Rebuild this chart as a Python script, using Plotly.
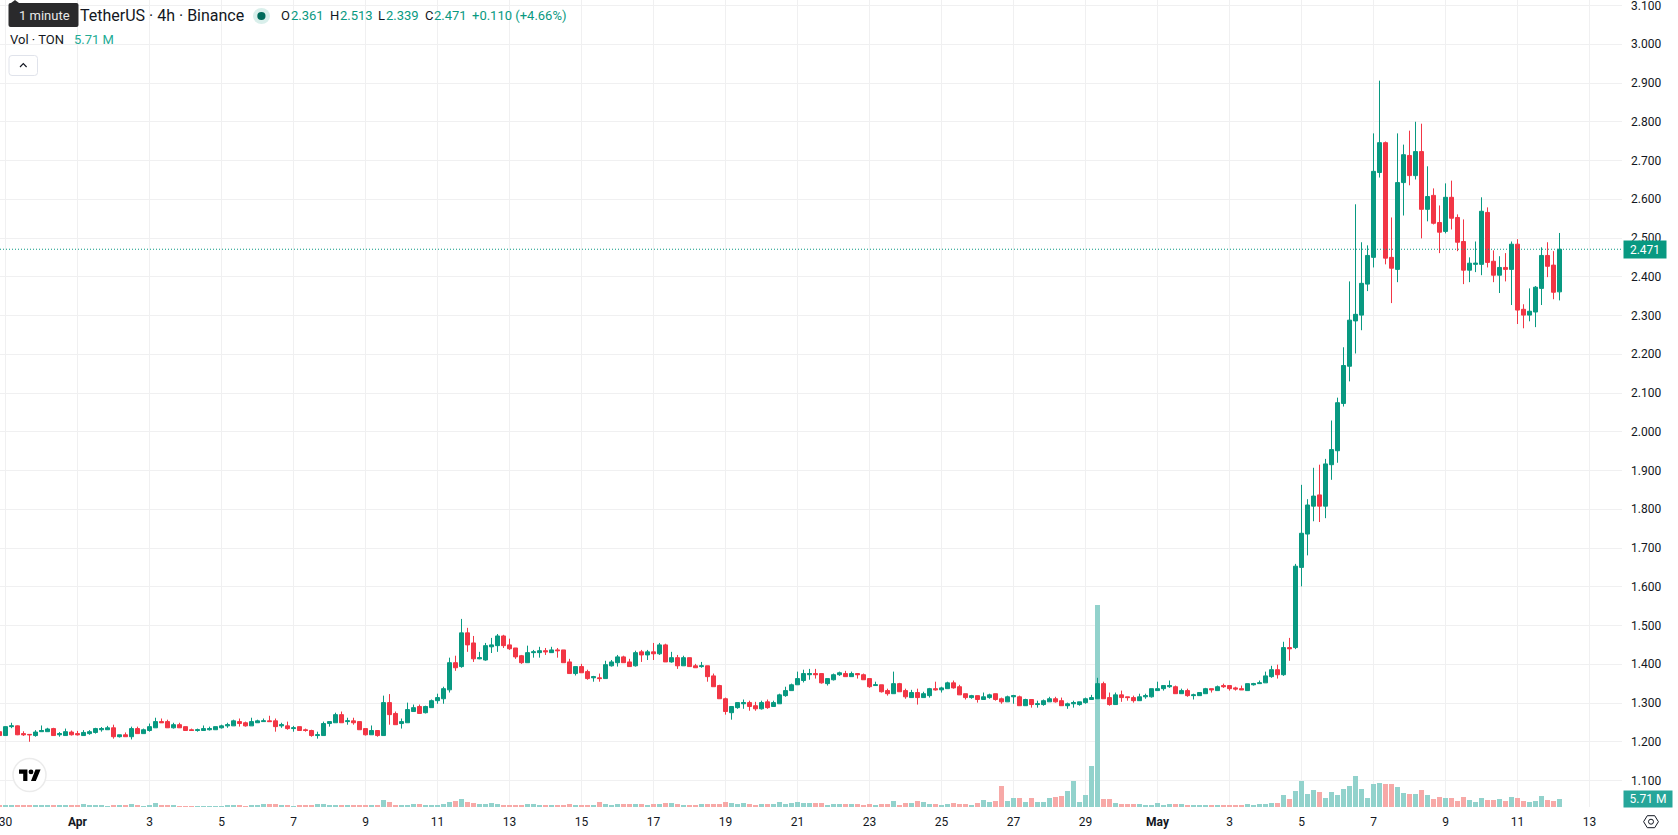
import pandas as pd
import plotly.graph_objects as go

# 4h candles, oldest first
FIRST_BAR = "2026-03-29 20:00"

opens = [
    1.226,1.216,1.239,1.241,1.221,1.219,1.216,1.226,1.226,1.234,
    1.218,1.216,1.225,1.221,1.216,1.221,1.224,1.231,1.231,1.236,
    1.213,1.218,1.213,1.234,1.221,1.229,1.236,1.252,1.252,1.236,
    1.244,1.239,1.231,1.229,1.229,1.231,1.231,1.236,1.241,1.241,
    1.252,1.249,1.241,1.249,1.252,1.254,1.254,1.241,1.241,1.234,
    1.239,1.231,1.229,1.216,1.216,1.247,1.249,1.270,1.252,1.254,
    1.252,1.234,1.218,1.229,1.216,1.301,1.273,1.247,1.249,1.278,
    1.291,1.275,1.288,1.306,1.311,1.334,1.404,1.394,1.481,1.455,
    1.414,1.411,1.445,1.448,1.473,1.450,1.442,1.422,1.404,1.430,
    1.430,1.435,1.430,1.437,1.437,1.406,1.376,1.394,1.381,1.365,
    1.365,1.363,1.396,1.404,1.419,1.406,1.396,1.432,1.424,1.432,
    1.427,1.450,1.406,1.417,1.396,1.417,1.396,1.394,1.396,1.370,
    1.345,1.311,1.275,1.288,1.298,1.301,1.293,1.285,1.303,1.291,
    1.298,1.319,1.332,1.347,1.358,1.373,1.376,1.376,1.350,1.360,
    1.373,1.376,1.368,1.376,1.373,1.363,1.345,1.347,1.332,1.324,
    1.350,1.332,1.314,1.327,1.314,1.319,1.337,1.334,1.337,1.352,
    1.342,1.324,1.314,1.319,1.309,1.314,1.324,1.311,1.303,1.316,
    1.316,1.293,1.309,1.296,1.296,1.303,1.311,1.306,1.293,1.298,
    1.296,1.301,1.309,1.311,1.350,1.314,1.296,1.321,1.316,1.314,
    1.306,1.316,1.316,1.332,1.337,1.342,1.342,1.324,1.332,1.319,
    1.319,1.324,1.337,1.332,1.345,1.345,1.339,1.337,1.332,1.347,
    1.350,1.352,1.368,1.386,1.373,1.443,1.443,1.650,1.736,1.808,
    1.837,1.808,1.915,1.951,2.073,2.169,2.286,2.301,2.381,2.450,
    2.669,2.746,2.450,2.419,2.643,2.713,2.661,2.723,2.574,2.610,
    2.540,2.517,2.605,2.553,2.491,2.417,2.432,2.432,2.566,2.440,
    2.404,2.424,2.419,2.484,2.316,2.301,2.309,2.370,2.455,2.430,
    2.361,
]
highs = [
    1.226,1.240,1.249,1.242,1.227,1.220,1.230,1.242,1.236,1.236,
    1.225,1.234,1.229,1.228,1.230,1.230,1.236,1.238,1.241,1.244,
    1.218,1.224,1.239,1.239,1.234,1.247,1.262,1.260,1.257,1.249,
    1.249,1.239,1.234,1.234,1.242,1.239,1.239,1.244,1.249,1.257,
    1.260,1.252,1.262,1.257,1.260,1.267,1.260,1.249,1.252,1.241,
    1.239,1.234,1.231,1.226,1.252,1.252,1.275,1.278,1.262,1.262,
    1.252,1.234,1.242,1.229,1.319,1.323,1.278,1.260,1.301,1.296,
    1.296,1.293,1.309,1.324,1.342,1.417,1.422,1.517,1.494,1.473,
    1.432,1.455,1.468,1.478,1.476,1.466,1.442,1.424,1.448,1.437,
    1.445,1.442,1.445,1.442,1.437,1.414,1.394,1.401,1.386,1.370,
    1.376,1.409,1.411,1.424,1.422,1.414,1.435,1.437,1.437,1.455,
    1.455,1.453,1.432,1.424,1.422,1.417,1.401,1.406,1.396,1.376,
    1.347,1.314,1.291,1.301,1.309,1.306,1.303,1.306,1.309,1.306,
    1.324,1.342,1.350,1.381,1.386,1.388,1.388,1.376,1.363,1.376,
    1.381,1.383,1.381,1.376,1.376,1.363,1.355,1.347,1.337,1.381,
    1.352,1.337,1.334,1.337,1.329,1.339,1.355,1.342,1.355,1.358,
    1.347,1.324,1.321,1.319,1.327,1.324,1.324,1.314,1.319,1.321,
    1.319,1.311,1.309,1.306,1.309,1.316,1.316,1.314,1.301,1.306,
    1.303,1.314,1.321,1.365,1.355,1.327,1.327,1.332,1.316,1.319,
    1.324,1.324,1.337,1.355,1.345,1.358,1.345,1.337,1.337,1.324,
    1.327,1.339,1.337,1.345,1.350,1.345,1.342,1.345,1.350,1.352,
    1.358,1.381,1.396,1.399,1.458,1.468,1.659,1.863,1.826,1.907,
    1.915,1.930,2.029,2.088,2.218,2.388,2.587,2.489,2.481,2.770,
    2.906,2.749,2.553,2.770,2.741,2.777,2.800,2.795,2.685,2.628,
    2.584,2.641,2.648,2.561,2.548,2.450,2.491,2.605,2.579,2.468,
    2.453,2.461,2.491,2.497,2.329,2.370,2.376,2.476,2.489,2.466,
    2.513,
]
lows = [
    1.216,1.216,1.235,1.217,1.215,1.200,1.213,1.226,1.226,1.216,
    1.213,1.216,1.216,1.216,1.216,1.218,1.221,1.226,1.231,1.208,
    1.211,1.213,1.206,1.221,1.221,1.226,1.236,1.249,1.236,1.234,
    1.236,1.229,1.229,1.226,1.229,1.229,1.231,1.234,1.236,1.241,
    1.239,1.239,1.241,1.249,1.252,1.252,1.226,1.236,1.231,1.226,
    1.229,1.226,1.213,1.208,1.216,1.239,1.249,1.249,1.244,1.244,
    1.231,1.216,1.218,1.213,1.216,1.244,1.244,1.234,1.249,1.278,
    1.273,1.273,1.288,1.298,1.298,1.327,1.383,1.391,1.432,1.406,
    1.413,1.409,1.429,1.432,1.442,1.437,1.414,1.401,1.404,1.417,
    1.417,1.424,1.430,1.417,1.404,1.376,1.371,1.378,1.360,1.355,
    1.355,1.363,1.394,1.394,1.404,1.394,1.394,1.406,1.411,1.411,
    1.424,1.406,1.404,1.388,1.396,1.394,1.391,1.391,1.355,1.342,
    1.311,1.270,1.257,1.285,1.285,1.280,1.280,1.283,1.285,1.291,
    1.298,1.316,1.332,1.347,1.353,1.360,1.363,1.350,1.345,1.358,
    1.370,1.368,1.368,1.363,1.360,1.339,1.345,1.327,1.319,1.324,
    1.329,1.311,1.314,1.296,1.314,1.314,1.332,1.327,1.337,1.337,
    1.321,1.309,1.311,1.301,1.309,1.311,1.306,1.298,1.303,1.298,
    1.293,1.293,1.288,1.288,1.293,1.303,1.301,1.293,1.285,1.288,
    1.293,1.298,1.309,1.311,1.311,1.293,1.296,1.303,1.306,1.301,
    1.306,1.311,1.314,1.332,1.332,1.339,1.324,1.324,1.316,1.309,
    1.319,1.324,1.327,1.332,1.339,1.332,1.332,1.334,1.332,1.345,
    1.350,1.352,1.365,1.363,1.370,1.409,1.439,1.601,1.681,1.769,
    1.767,1.777,1.876,1.920,2.065,2.130,2.202,2.262,2.363,2.424,
    2.656,2.432,2.332,2.386,2.558,2.636,2.651,2.499,2.543,2.535,
    2.461,2.512,2.522,2.466,2.381,2.386,2.412,2.404,2.424,2.386,
    2.358,2.388,2.327,2.278,2.267,2.285,2.270,2.327,2.399,2.342,
    2.339,
]
closes = [
    1.216,1.239,1.241,1.218,1.218,1.218,1.225,1.229,1.233,1.216,
    1.221,1.226,1.218,1.218,1.224,1.226,1.234,1.234,1.236,1.213,
    1.218,1.213,1.234,1.221,1.231,1.239,1.252,1.249,1.236,1.244,
    1.236,1.229,1.229,1.231,1.234,1.234,1.239,1.241,1.244,1.254,
    1.247,1.241,1.252,1.254,1.254,1.252,1.239,1.244,1.234,1.236,
    1.229,1.229,1.216,1.218,1.247,1.252,1.270,1.249,1.254,1.249,
    1.231,1.218,1.229,1.216,1.301,1.270,1.244,1.252,1.283,1.288,
    1.273,1.291,1.306,1.314,1.337,1.404,1.391,1.481,1.450,1.414,
    1.417,1.448,1.450,1.473,1.448,1.440,1.419,1.404,1.430,1.432,
    1.435,1.432,1.437,1.435,1.404,1.376,1.394,1.378,1.363,1.368,
    1.363,1.399,1.406,1.419,1.404,1.394,1.430,1.424,1.432,1.427,
    1.450,1.406,1.417,1.396,1.417,1.394,1.391,1.396,1.368,1.342,
    1.311,1.278,1.291,1.301,1.301,1.291,1.285,1.301,1.288,1.301,
    1.321,1.332,1.347,1.363,1.376,1.376,1.373,1.352,1.363,1.373,
    1.378,1.368,1.376,1.373,1.360,1.342,1.347,1.329,1.324,1.350,
    1.329,1.316,1.327,1.314,1.324,1.337,1.334,1.339,1.352,1.339,
    1.321,1.314,1.319,1.309,1.316,1.321,1.309,1.303,1.316,1.319,
    1.293,1.309,1.296,1.298,1.306,1.311,1.303,1.293,1.298,1.301,
    1.303,1.311,1.314,1.350,1.311,1.296,1.321,1.314,1.314,1.306,
    1.316,1.319,1.337,1.337,1.345,1.345,1.324,1.332,1.319,1.321,
    1.327,1.337,1.334,1.342,1.342,1.337,1.336,1.334,1.350,1.350,
    1.352,1.370,1.386,1.373,1.443,1.440,1.653,1.738,1.811,1.834,
    1.808,1.917,1.954,2.075,2.171,2.288,2.303,2.383,2.455,2.672,
    2.746,2.448,2.422,2.643,2.715,2.661,2.723,2.574,2.607,2.538,
    2.515,2.605,2.551,2.489,2.417,2.435,2.435,2.569,2.437,2.404,
    2.424,2.419,2.484,2.314,2.301,2.311,2.373,2.455,2.427,2.360,
    2.471,
]
# volume per candle, millions of TON
volumes = [
    1.43,1.43,1.43,1.43,1.43,1.43,1.43,1.43,1.43,1.43,
    1.43,1.43,1.43,1.43,2.14,1.43,1.43,1.43,0.71,1.43,
    1.43,1.43,2.14,1.43,0.71,1.43,2.86,1.43,1.43,1.43,
    0.71,0.71,0.71,0.71,0.71,0.71,0.71,0.71,1.43,1.43,
    1.43,0.71,1.43,1.43,2.14,2.14,2.14,1.43,1.43,0.71,
    1.43,1.43,1.43,2.14,2.14,1.43,1.43,1.43,1.43,1.43,
    1.43,1.43,1.43,1.43,5.00,3.57,1.43,1.43,1.43,2.14,
    2.14,1.43,1.43,1.43,2.14,3.57,4.28,5.71,3.57,2.86,
    2.14,2.14,2.86,2.14,1.43,1.43,1.43,1.43,2.14,2.14,
    1.43,1.43,1.43,1.43,1.43,2.14,1.43,1.43,1.43,1.43,
    3.57,2.14,1.43,2.14,2.14,2.14,2.14,2.14,1.43,2.14,
    2.14,2.86,2.86,2.14,1.43,1.43,1.43,2.14,2.14,2.14,
    2.14,3.57,2.86,2.14,2.86,2.14,1.43,2.14,2.14,2.14,
    3.57,2.14,2.86,3.57,2.86,2.86,2.86,2.86,1.43,2.14,
    2.14,2.14,2.14,2.14,1.43,2.14,1.43,2.14,2.14,4.28,
    1.43,2.86,2.86,4.28,3.57,2.14,2.14,1.43,2.14,2.86,
    2.14,2.14,1.43,2.86,5.00,3.57,4.28,15.00,4.28,6.42,
    6.42,3.57,6.42,3.57,3.57,6.42,7.14,7.85,11.42,18.56,
    3.57,8.57,29.26,144.18,5.71,5.71,2.86,2.14,2.14,2.14,
    2.14,1.43,1.43,2.86,1.43,2.14,2.14,2.14,1.43,1.43,
    1.43,1.43,1.43,1.43,1.43,1.43,1.43,1.43,2.14,1.43,
    2.14,2.14,2.86,2.86,8.57,5.71,11.42,18.56,9.28,12.13,
    10.71,6.42,10.71,8.57,12.85,15.00,22.13,12.85,6.42,16.42,
    17.13,16.42,16.42,14.28,9.99,9.28,9.28,12.13,8.57,5.71,
    7.14,6.42,6.42,4.28,7.14,5.00,3.57,6.42,5.00,5.00,
    5.71,4.28,7.14,6.42,4.28,3.57,4.28,7.85,5.00,4.28,
    5.71,
]

price_ticks = [1.1,1.2,1.3,1.4,1.5,1.6,1.7,1.8,1.9,2.0,2.1,2.2,2.3,2.4,2.5,
               2.6,2.7,2.8,2.9,3.0,3.1]
date_ticks = ["2026-03-30","2026-04-01","2026-04-03","2026-04-05","2026-04-07",
              "2026-04-09","2026-04-11","2026-04-13","2026-04-15","2026-04-17",
              "2026-04-19","2026-04-21","2026-04-23","2026-04-25","2026-04-27",
              "2026-04-29","2026-05-01","2026-05-03","2026-05-05","2026-05-07",
              "2026-05-09","2026-05-11","2026-05-13"]
date_labels = ["30","<b>Apr</b>","3","5","7","9","11","13","15","17","19","21",
               "23","25","27","29","<b>May</b>","3","5","7","9","11","13"]

UP = "#089981"
DOWN = "#F23645"
VOL_UP = "#92D2CC"
VOL_DOWN = "#F7A9A7"
GRID = "#F0F0F1"
INK = "#131722"
FONT = "Roboto"

W, H = 1678, 835
PLOT_W, PLOT_H = 1622, 807

times = pd.date_range(FIRST_BAR, periods=len(closes), freq="4h")

# Scale: 36 px per day, 387.5 px per 1.000 of price
px_per_day = 36.0
origin = pd.Timestamp(date_ticks[0])
x_start = origin - pd.Timedelta(days=5.5 / px_per_day)
x_end = x_start + pd.Timedelta(days=PLOT_W / px_per_day)
price_top = 1.5 + 625.5 / 387.5
price_bottom = 1.5 - (PLOT_H - 625.5) / 387.5
volume_top = PLOT_H * volumes[-1] / 8


def px(x):
    return x / PLOT_W


def py(y):
    return 1 - y / PLOT_H


def path(*cmds):
    """Build an SVG path in paper coordinates from pixel positions."""
    out = []
    for c in cmds:
        if isinstance(c, str):
            out.append(c)
        else:
            out.append(f"{px(c[0]):.6f},{py(c[1]):.6f}")
    return " ".join(out)


def rounded(x0, y0, x1, y1, r):
    return path("M", (x0 + r, y0), "L", (x1 - r, y0), "Q", (x1, y0), (x1, y0 + r),
                "L", (x1, y1 - r), "Q", (x1, y1), (x1 - r, y1),
                "L", (x0 + r, y1), "Q", (x0, y1), (x0, y1 - r),
                "L", (x0, y0 + r), "Q", (x0, y0), (x0 + r, y0), "Z")


def paper_shape(kind, x0, y0, x1, y1, **kw):
    return dict(type=kind, xref="paper", yref="paper", x0=px(x0), x1=px(x1),
                y0=py(y0), y1=py(y1), **kw)


fig = go.Figure()

fig.add_trace(go.Bar(
    x=times, y=volumes, yaxis="y",
    marker=dict(color=[VOL_UP if c >= o else VOL_DOWN for o, c in zip(opens, closes)],
                line_width=0),
    showlegend=False,
))

fig.add_trace(go.Candlestick(
    x=times, open=opens, high=highs, low=lows, close=closes, yaxis="y2",
    increasing=dict(line=dict(color=UP, width=1), fillcolor=UP),
    decreasing=dict(line=dict(color=DOWN, width=1), fillcolor=DOWN),
    whiskerwidth=0,
    showlegend=False,
))

shapes = [
    # last price line
    dict(type="line", xref="paper", x0=0, x1=1, yref="y2", y0=closes[-1], y1=closes[-1],
         line=dict(color=UP, width=1, dash="1px,2px")),
    # hover tip over the symbol name
    dict(type="path", xref="paper", yref="paper", path=rounded(8.5, 3, 78.5, 27, 2),
         fillcolor="#2A2A2C", line_width=0),
    dict(type="path", xref="paper", yref="paper",
         path=path("M", (11, 3), "L", (15, 0), "L", (19, 3), "Z"),
         fillcolor="#2A2A2C", line_width=0),
    # market status dot
    paper_shape("circle", 253, 8, 270, 24, fillcolor="#D9EFEB", line_width=0),
    paper_shape("circle", 257.3, 12, 265.5, 20, fillcolor="#006B5B", line_width=0),
    # collapse button
    dict(type="path", xref="paper", yref="paper", path=rounded(9, 55.5, 37.5, 75.5, 3),
         fillcolor="#FFFFFF", line=dict(color="#E0E3EB", width=1)),
    dict(type="path", xref="paper", yref="paper",
         path=path("M", (20, 67), "L", (23.3, 63.7), "L", (26.6, 67)),
         line=dict(color=INK, width=1.2)),
    # logo badge
    paper_shape("circle", 13, 758.5, 46, 791.5, fillcolor="#FFFFFF",
                line=dict(color="#EBEBEB", width=1.5)),
    dict(type="path", xref="paper", yref="paper", fillcolor="#000000", line_width=0,
         path=path("M", (27.4, 780.9), "L", (23.2, 780.9), "L", (23.2, 773.7), "L", (19, 773.7),
                   "L", (19, 769.5), "L", (27.4, 769.5), "Z",
                   "M", (35.8, 780.9), "L", (31, 780.9), "L", (35.5, 769.5), "L", (40.6, 769.5), "Z")),
    paper_shape("circle", 28.6, 769.5, 33.4, 774.3, fillcolor="#000000", line_width=0),
    # settings icon in the corner
    dict(type="path", xref="paper", yref="paper",
         path=path("M", (1643.6, 821.7), "L", (1647.3, 815.7), "L", (1654.7, 815.7),
                   "L", (1658.4, 821.7), "L", (1654.7, 827.7), "L", (1647.3, 827.7), "Z"),
         line=dict(color=INK, width=1)),
    paper_shape("circle", 1648.5, 819.2, 1653.5, 824.2, line=dict(color=INK, width=1)),
]


def label(text, x, y, size=13, color=INK, **kw):
    return dict(text=text, xref="paper", yref="paper", x=px(x - 1), y=py(y), xanchor="left",
                yanchor="middle", showarrow=False,
                font=dict(family=FONT, size=size, color=color), **kw)


annotations = [
    label("TetherUS · 4h · Binance", 78.5, 16, size=16),
    label("1 minute", 18, 15.5, size=13, color="#E8E8E8"),
    label("O", 279.5, 16), label(f"{opens[-1]:.3f}", 289.5, 16, color=UP),
    label("H", 328.5, 16), label(f"{highs[-1]:.3f}", 338.5, 16, color=UP),
    label("L", 377, 16), label(f"{lows[-1]:.3f}", 384.5, 16, color=UP),
    label("C", 423.5, 16), label(f"{closes[-1]:.3f}", 432.5, 16, color=UP),
    label(f"+{closes[-1]-opens[-1]:.3f} (+{(closes[-1]-opens[-1])/opens[-1]*100:.2f}%)", 470.5, 16, color=UP),
    label("Vol · TON", 9, 40),
    label(f"{volumes[-1]:.2f} M", 72.5, 40, color="#22AB94"),
    # axis value tags
    dict(text=f"{closes[-1]:.3f}", xref="paper", yref="y2", x=1.0006, y=closes[-1],
         xanchor="left", yanchor="middle", showarrow=False, bgcolor=UP, width=40, height=15,
         font=dict(family=FONT, size=12, color="#FFFFFF")),
    dict(text=f"{volumes[-1]:.2f} M", xref="paper", yref="paper", x=1.0006, y=py(799),
         xanchor="left", yanchor="middle", showarrow=False, bgcolor="#26A69A", width=46, height=14,
         font=dict(family=FONT, size=12, color="#FFFFFF")),
]

fig.update_layout(
    width=W, height=H,
    margin=dict(l=0, r=W - PLOT_W, t=0, b=H - PLOT_H, pad=0),
    paper_bgcolor="#FFFFFF", plot_bgcolor="#FFFFFF",
    font=dict(family=FONT, size=12, color=INK),
    boxgap=1 / 3, boxgroupgap=0, bargap=1 / 6,
    showlegend=False,
    shapes=shapes, annotations=annotations,
    xaxis=dict(
        type="date", range=[x_start, x_end], rangeslider=dict(visible=False),
        tickmode="array", tickvals=date_ticks, ticktext=date_labels,
        showgrid=True, gridcolor=GRID, gridwidth=1, zeroline=False, showline=False,
        ticks="", ticklabelstandoff=6, tickangle=0, ticklabeloverflow="allow",
        tickfont=dict(family=FONT, size=12, color=INK),
    ),
    yaxis=dict(range=[0, volume_top], visible=False, showgrid=False, fixedrange=True),
    yaxis2=dict(
        overlaying="y", side="right", range=[price_bottom, price_top],
        tickmode="array", tickvals=price_ticks, ticktext=[f"{v:.3f}" for v in price_ticks],
        showgrid=True, gridcolor=GRID, gridwidth=1, zeroline=False, showline=False,
        ticks="", ticklabelstandoff=8, ticklabeloverflow="allow",
        tickfont=dict(family=FONT, size=12, color=INK),
    ),
)

fig.write_html("out.html")
